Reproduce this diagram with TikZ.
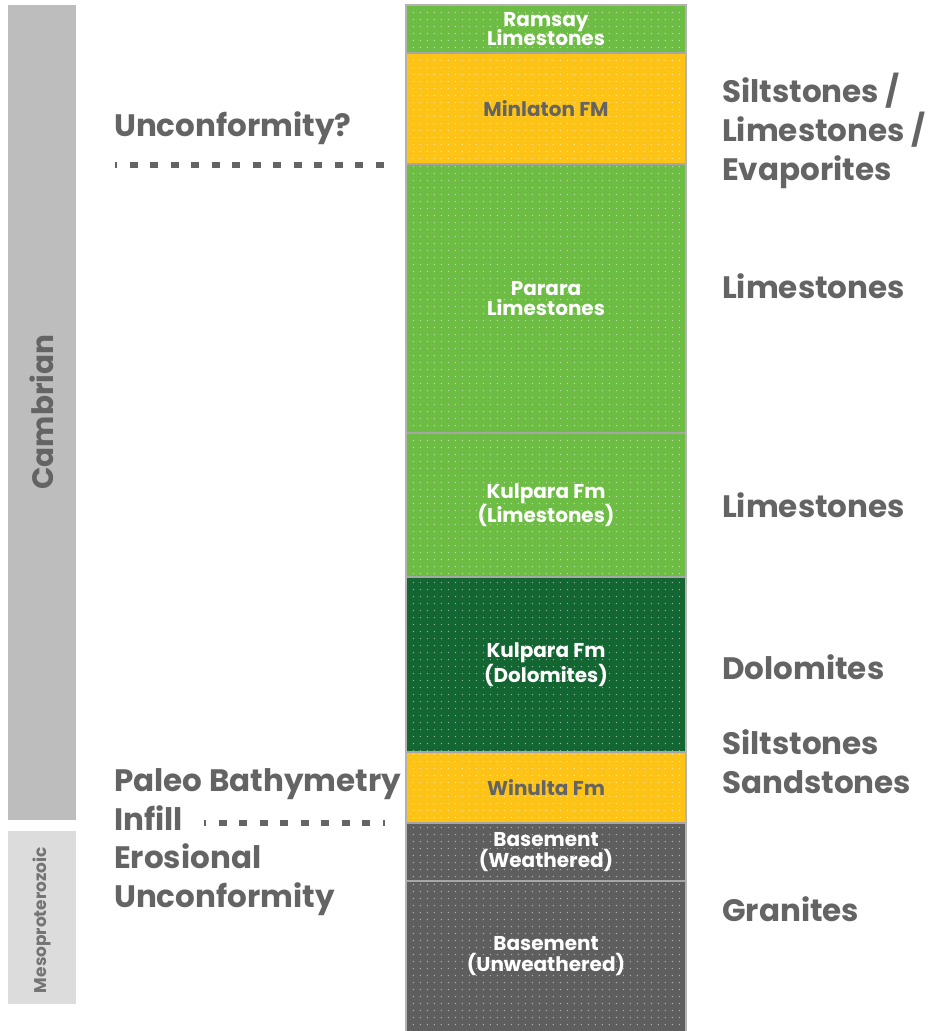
\documentclass[tikz,border=0pt]{standalone}
\usepackage{fontspec}
\setmainfont{Poppins}
\usetikzlibrary{patterns.meta}

\definecolor{layerlime}{HTML}{6DBD45}
\definecolor{layeryellow}{HTML}{FDC316}
\definecolor{layerdark}{HTML}{136632}
\definecolor{layergray}{HTML}{5E5E5E}
\definecolor{labelgray}{HTML}{646464}
\definecolor{cambgray}{HTML}{BDBDBD}
\definecolor{mesogray}{HTML}{DCDCDC}

\tikzset{
  dotfill/.style={pattern={Dots[distance=7.4pt, radius=0.8pt]}, pattern color=white, fill opacity=0.5},
  layerlabel/.style={font=\fontsize{20}{20.5}\selectfont\bfseries, align=center, inner sep=0pt},
  sidelabel/.style={font=\fontsize{31}{39}\selectfont\bfseries, text=labelgray, align=left, inner sep=0pt, anchor=west},
  unconf/.style={line width=5.5pt, labelgray, dash pattern=on 8pt off 12.5pt, dash phase=6pt}
}

\begin{document}
\begin{tikzpicture}[x=1pt, y=-1pt]
      \useasboundingbox (0,0) rectangle (931,1031);
      % era bars
      \fill[cambgray] (8,5) rectangle (76,820);
      \node[rotate=90, text=labelgray, font=\fontsize{29.5}{30}\selectfont\bfseries] (cambrian) at (42,412) {Cambrian};
      \fill[mesogray] (8,831) rectangle (76,1004);
      \node[rotate=90, text=labelgray!90, font=\fontsize{17}{18}\selectfont\bfseries] (meso) at (42,920) {Mesoproterozoic};
      % stratigraphic column
      \foreach \top/\bot/\col/\txt/\tcol [count=\i] in {
          5/53/layerlime/{Ramsay\\[-3pt]Limestones}/white,
          53/164/layeryellow/{Minlaton FM}/labelgray,
          164/433/layerlime/{Parara\\Limestones}/white,
          433/577/layerlime/{Kulpara Fm\\(Limestones)}/white,
          577/752/layerdark/{Kulpara Fm\\(Dolomites)}/white,
          752/823/layeryellow/{Winulta Fm}/labelgray,
          823/881/layergray/{Basement\\(Weathered)}/white,
          881/1031/layergray/{Basement\\(Unweathered)}/white} {
        \fill[\col] (406,\top) rectangle (686,\bot);
        \fill[dotfill] (406,\top) rectangle (686,\bot);
        \draw[gray!70, line width=1.5pt] (406,\top) -- (686,\top);
        \node[layerlabel, text=\tcol] (layer\i) at (546,{(\top+\bot)/2}) {\txt};
      }
      \draw[gray!60, line width=1.5pt] (406,1031) -- (406,5) -- (686,5) -- (686,1031);
      % lithology
      \node[sidelabel] (lith1) at (722,131) {Siltstones /\\Limestones /\\Evaporites};
      \node[sidelabel] (lith2) at (722,286) {Limestones};
      \node[sidelabel] (lith3) at (722,505) {Limestones};
      \node[sidelabel] (lith4) at (722,667) {Dolomites};
      \node[sidelabel] (lith5) at (722,762) {Siltstones\\Sandstones};
      \node[sidelabel] (lith6) at (722,909) {Granites};
      % unconformities
      \node[sidelabel] (unc1) at (114,128) {Unconformity?};
      \coordinate (unc1a) at (115,165);
      \coordinate (unc1b) at (389,165);
      \draw[unconf] (unc1a) -- (unc1b);
      \node[sidelabel] (unc2) at (114,800) {Paleo Bathymetry\\Infill};
      \coordinate (unc2a) at (204,823);
      \coordinate (unc2b) at (385,823);
      \draw[unconf] (unc2a) -- (unc2b);
      \node[sidelabel] (unc3) at (114,880) {Erosional\\Unconformity};
\end{tikzpicture}
\end{document}
